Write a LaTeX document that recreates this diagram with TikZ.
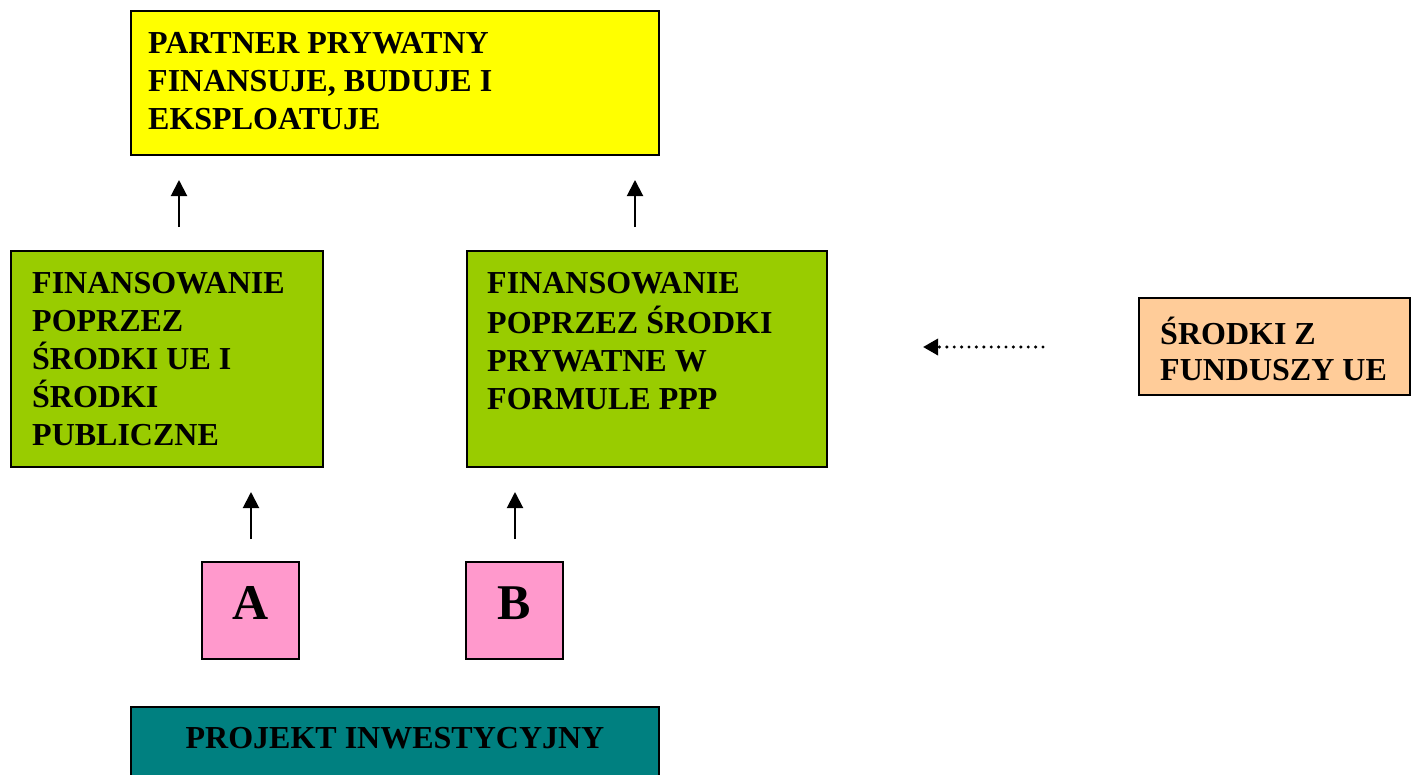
\documentclass[tikz,border=0pt]{standalone}
\usepackage{fontspec}
\setmainfont{Liberation Serif}
\usetikzlibrary{arrows.meta}

\definecolor{partnerfill}{HTML}{FFFF00}
\definecolor{finfill}{HTML}{99CC00}
\definecolor{eufill}{HTML}{FFCC99}
\definecolor{variantfill}{HTML}{FF99CC}
\definecolor{projectfill}{HTML}{008080}

\begin{document}
\begin{tikzpicture}[x=1pt,y=-1pt,
  box/.style={draw=black, line width=1.8pt, rectangle, inner sep=0pt},
  boxtext/.style={anchor=north west, inner sep=0pt, align=left,
    font=\bfseries\fontsize{32}{38}\selectfont},
  uparrow/.style={line width=2pt, -{Triangle[length=16pt,width=16pt]}},
  euarrow/.style={line width=3.4pt, line cap=round, dash pattern=on 0pt off 7.4pt,
    -{Triangle[length=15pt,width=16pt]}},
]
\useasboundingbox (0,0) rectangle (1411,774);

% boxes
\node[box, fill=partnerfill, minimum width=528pt, minimum height=144pt] (partner) at (395,83) {};
\node[box, fill=finfill, minimum width=312pt, minimum height=216pt] (finA) at (167,359) {};
\node[box, fill=finfill, minimum width=360pt, minimum height=216pt] (finB) at (647,359) {};
\node[box, fill=eufill, minimum width=271pt, minimum height=97pt] (eu) at (1274.5,346.5) {};
\node[box, fill=variantfill, minimum width=97pt, minimum height=97pt,
      font=\bfseries\fontsize{50}{56}\selectfont, text height=33pt, text depth=16pt] (varA) at (250.5,610.5) {A};
\node[box, fill=variantfill, minimum width=97pt, minimum height=97pt,
      font=\bfseries\fontsize{50}{56}\selectfont, text height=33pt, text depth=16pt] (varB) at (514.5,610.5) {B};
\node[box, fill=projectfill, minimum width=528pt, minimum height=93pt] (project) at (395,753.5) {};

% box texts
\node[boxtext] (partnertext) at (148,26.4) {\strut PARTNER PRYWATNY\\FINANSUJE, BUDUJE I\\EKSPLOATUJE};
\node[boxtext] (finAtext) at (32,266.4) {\strut FINANSOWANIE\\POPRZEZ\\ŚRODKI UE I\\ŚRODKI\\PUBLICZNE};
\node[boxtext] (finBtext) at (487,266.4) {\strut FINANSOWANIE\\POPRZEZ ŚRODKI\\PRYWATNE W\\FORMULE PPP};
\node[boxtext, font=\bfseries\fontsize{32}{36.5}\selectfont] (eutext) at (1160,316.4) {\strut ŚRODKI Z\\FUNDUSZY UE};
\node[anchor=base, inner sep=0pt, font=\bfseries\fontsize{32}{38}\selectfont] (projecttext) at (395,748) {PROJEKT INWESTYCYJNY};

% arrow end points
\coordinate (a1s) at (179,227); \coordinate (a1e) at (179,180);
\coordinate (a2s) at (635,227); \coordinate (a2e) at (635,180);
\coordinate (a3s) at (251,539); \coordinate (a3e) at (251,492);
\coordinate (a4s) at (515,539); \coordinate (a4e) at (515,492);
\coordinate (eus) at (1043,347); \coordinate (eue) at (923,347);

\draw[uparrow] (a1s) -- (a1e);
\draw[uparrow] (a2s) -- (a2e);
\draw[uparrow] (a3s) -- (a3e);
\draw[uparrow] (a4s) -- (a4e);
\draw[euarrow] (eus) -- (eue);
\end{tikzpicture}
\end{document}
